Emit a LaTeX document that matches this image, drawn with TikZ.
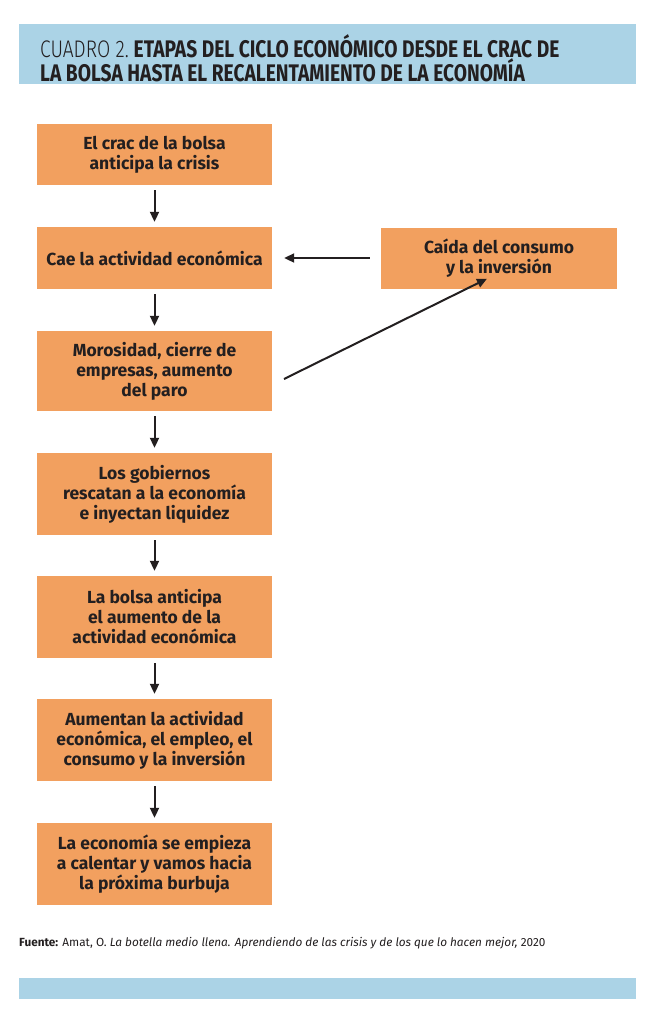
\documentclass[tikz,border=0pt]{standalone}
\usepackage{fontspec}
\setmainfont{Fira Sans}
\newfontfamily\condfont[FakeStretch=0.8]{Fira Sans}
\newfontfamily\condlight[FakeStretch=0.8]{Fira Sans Light}
\usetikzlibrary{arrows.meta}
\definecolor{bandblue}{HTML}{ABD3E6}
\definecolor{boxorange}{HTML}{F2A05F}
\definecolor{ink}{HTML}{231F20}
\begin{document}
\begin{tikzpicture}[x=1pt,y=-1pt,
  stage/.style={fill=boxorange, draw=none, minimum width=235pt, align=center,
    font=\fontsize{17.5}{20}\selectfont\bfseries, text=ink, inner sep=0pt},
  flow/.style={draw=ink, line width=2pt, -{Triangle[length=10pt,width=9pt]}}]
\useasboundingbox (0,0) rectangle (665,1029);
\fill[white] (0,0) rectangle (665,1029);
% header
\node[fill=bandblue, minimum width=617pt, minimum height=60pt, inner sep=0pt, anchor=north west] (header) at (19,24) {};
\node[anchor=north west, align=left, text=ink, inner sep=0pt,
  font=\fontsize{24}{23}\selectfont] (title) at (40,34)
  {{\condlight CUADRO 2.}\hspace{-0.15em} {\condfont\bfseries ETAPAS DEL CICLO ECONÓMICO DESDE EL CRAC DE}\\
   {\condfont\bfseries LA BOLSA HASTA EL RECALENTAMIENTO DE LA ECONOMÍA}};
% boxes
\node[stage, minimum height=61pt] (b1) at (154.5,154.5) {El crac de la bolsa\\anticipa la crisis};
\node[stage, minimum height=62pt] (b2) at (154.5,258) {Cae la actividad económica};
\node[stage, minimum height=80pt] (b3) at (154.5,371) {Morosidad, cierre de\\empresas, aumento\\del paro};
\node[stage, minimum height=82pt] (b4) at (154.5,494) {Los gobiernos\\rescatan a la economía\\e inyectan liquidez};
\node[stage, minimum height=82pt] (b5) at (154.5,617) {La bolsa anticipa\\el aumento de la\\actividad económica};
\node[stage, minimum height=82pt] (b6) at (154.5,740) {Aumentan la actividad\\económica, el empleo, el\\consumo y la inversión};
\node[stage, minimum height=82pt] (b7) at (154.5,864) {La economía se empieza\\a calentar y vamos hacia\\la próxima burbuja};
\node[stage, minimum width=236pt, minimum height=61pt] (r) at (499,258) {Caída del consumo\\y la inversión};
% connectors
\foreach \a/\b in {b1/b2,b2/b3,b3/b4,b4/b5,b5/b6,b6/b7}
  \draw[flow] ([yshift=-5pt]\a.south) -- ([yshift=5pt]\b.north);
\draw[flow] ([xshift=-11pt]r.west) -- ([xshift=12pt]b2.east);
\coordinate (dstart) at (284,379);
\draw[flow] (dstart) -- ([xshift=-12pt,yshift=10pt]r.south);
% source
\node[anchor=west, inner sep=0pt, text=ink, font=\fontsize{11.8}{13}\selectfont] (src) at (19,943)
  {\textbf{Fuente:} Amat, O. \textit{La botella medio llena. Aprendiendo de las crisis y de los que lo hacen mejor,} 2020};
% footer band
\node[fill=bandblue, minimum width=617pt, minimum height=21pt, inner sep=0pt, anchor=north west] (footer) at (19,978) {};
\end{tikzpicture}
\end{document}
